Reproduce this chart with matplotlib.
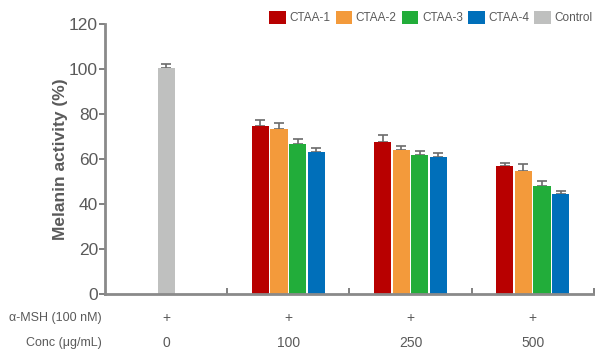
import numpy as np
import matplotlib
matplotlib.use("Agg")
import matplotlib.pyplot as plt

plt.rcParams['font.family'] = ['Liberation Sans', 'DejaVu Sans']

# melanin activity (%) per treatment, groups = concentrations 100, 250, 500
conc_labels = ['0', '100', '250', '500']
msh_labels = ['+', '+', '+', '+']
series = ['CTAA-1', 'CTAA-2', 'CTAA-3', 'CTAA-4']
colors = ['#B80000', '#F39A3B', '#22AD3A', '#006FBA']
ctaa_1 = [74.8, 67.6, 56.9]
ctaa_2 = [73.3, 64.0, 54.7]
ctaa_3 = [66.7, 61.8, 48.0]
ctaa_4 = [63.1, 60.9, 44.4]
err_1 = [2.5, 3.0, 1.5]
err_2 = [2.7, 1.8, 2.9]
err_3 = [2.0, 1.9, 2.2]
err_4 = [1.6, 1.6, 1.5]
control_val = [100.3]
control_err = [1.8]

values = [ctaa_1, ctaa_2, ctaa_3, ctaa_4]
errors = [err_1, err_2, err_3, err_4]

gray = '#6b6b6b'
txt = '#5a5a5a'
fig = plt.figure(figsize=(5.95, 3.51), dpi=100)
ax = fig.add_axes([0.1765, 0.1624, 0.8215, 0.7692])

width = 0.14
step = 0.152
groups = np.arange(1, 4)
for i, (name, vals, errs, c) in enumerate(zip(series, values, errors, colors)):
    x = groups + (i - 1.5) * step
    ax.bar(x, vals, width, color=c, label=name, zorder=2)
    ax.errorbar(x, vals, yerr=[np.zeros(len(errs)), errs], fmt='none',
                ecolor=gray, elinewidth=1.2, capsize=3.5, capthick=1.2, zorder=1)

ax.bar([0], control_val, width, color='#BFC0BF', label='Control', zorder=2)
ax.errorbar([0], control_val, yerr=[[0], control_err], fmt='none',
            ecolor=gray, elinewidth=1.2, capsize=3.5, capthick=1.2, zorder=1)

ax.set_xlim(-0.5, 3.5)
ax.set_ylim(0, 120)
ax.set_yticks(np.arange(0, 121, 20))
ax.set_xticks([0.5, 1.5, 2.5, 3.5])
ax.set_xticklabels([])
ax.tick_params(axis='x', direction='in', length=4, width=1.2, color=gray)
ax.tick_params(axis='y', direction='out', length=4, width=1.2, color=gray,
               labelsize=12.5, labelcolor=txt, pad=1)
for s in ['top', 'right']:
    ax.spines[s].set_visible(False)
for s in ['left', 'bottom']:
    ax.spines[s].set_color('#8a8a8a')
    ax.spines[s].set_linewidth(2)

ax.set_ylabel('Melanin activity (%)', fontsize=12.5, fontweight='bold',
              color=txt, labelpad=1)

# treatment table below the axis
trans = ax.get_xaxis_transform()
for j in range(4):
    ax.text(j, -0.09, msh_labels[j], transform=trans, ha='center', va='center',
            fontsize=10, color=txt)
    ax.text(j, -0.18, conc_labels[j], transform=trans, ha='center', va='center',
            fontsize=10, color=txt)
ax.text(-0.006, -0.09, 'α-MSH (100 nM)', transform=ax.transAxes, ha='right',
        va='center', fontsize=9, color=txt)
ax.text(-0.006, -0.18, 'Conc (μg/mL)', transform=ax.transAxes, ha='right',
        va='center', fontsize=9, color=txt)

leg = fig.legend(loc='upper right', bbox_to_anchor=(1.008, 0.99), ncol=5,
                 frameon=False, fontsize=8.5, handlelength=1.4, handleheight=1.4,
                 handletextpad=0.3, columnspacing=0.45, borderaxespad=0.2)
for t in leg.get_texts():
    t.set_color(txt)

fig.savefig('out.png', dpi=100)
